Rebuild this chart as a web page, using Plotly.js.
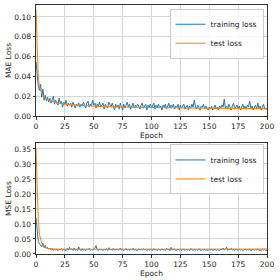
<!DOCTYPE html>
<html>
<head>
<meta charset="utf-8">
<script src="https://cdn.plot.ly/plotly-3.0.1.min.js"></script>
<style>html,body{margin:0;padding:0;background:#fff;}#chart{width:280px;height:280px;}</style>
</head>
<body>
<div id="chart"></div>
<script>
const epochs = Array.from({length: 201}, (_, i) => i);

const maeTrain = [
0.055,0.038,0.030,0.026,0.032,0.019,0.027,0.016,0.021,0.015,
0.019,0.014,0.018,0.013,0.017,0.020,0.012,0.016,0.013,0.011,
0.018,0.013,0.015,0.009,0.014,0.012,0.016,0.010,0.013,0.011,
0.013,0.009,0.014,0.011,0.008,0.012,0.010,0.013,0.009,0.012,
0.010,0.014,0.011,0.008,0.013,0.015,0.009,0.012,0.010,0.016,
0.011,0.013,0.008,0.012,0.010,0.014,0.009,0.011,0.013,0.007,
0.012,0.010,0.008,0.014,0.011,0.009,0.013,0.010,0.006,0.012,
0.009,0.011,0.007,0.013,0.010,0.006,0.012,0.008,0.011,0.014,
0.009,0.012,0.007,0.010,0.013,0.008,0.011,0.009,0.012,0.010,
0.007,0.011,0.013,0.008,0.010,0.012,0.006,0.011,0.009,0.012,
0.008,0.010,0.013,0.007,0.011,0.009,0.012,0.008,0.010,0.006,
0.011,0.009,0.012,0.007,0.010,0.013,0.008,0.011,0.009,0.012,
0.007,0.010,0.009,0.012,0.006,0.011,0.008,0.010,0.012,0.007,
0.009,0.011,0.006,0.010,0.008,0.012,0.009,0.016,0.010,0.007,
0.011,0.008,0.006,0.010,0.009,0.012,0.007,0.010,0.008,0.006,
0.009,0.007,0.010,0.006,0.008,0.011,0.007,0.009,0.006,0.010,
0.008,0.011,0.009,0.017,0.008,0.010,0.007,0.012,0.009,0.006,
0.010,0.013,0.007,0.009,0.011,0.008,0.010,0.006,0.009,0.012,
0.008,0.010,0.007,0.011,0.009,0.015,0.008,0.010,0.006,0.009,
0.011,0.007,0.013,0.008,0.010,0.006,0.009,0.012,0.007,0.008,
0.006];

const maeTest = [
0.108,0.060,0.038,0.030,0.026,0.023,0.021,0.019,0.018,0.017,
0.0165,0.016,0.0155,0.015,0.0148,0.0145,0.014,0.0138,0.0135,0.0132,
0.013,0.0128,0.0126,0.0124,0.0122,0.012,0.0119,0.0118,0.0117,0.0116,
0.0115,0.0114,0.0113,0.0112,0.0111,0.011,0.0109,0.0108,0.0107,0.0106,
0.0105,0.0104,0.0103,0.0103,0.0102,0.0101,0.0100,0.0100,0.0099,0.0099,
0.0098,0.0098,0.0097,0.0097,0.0097,0.0096,0.0096,0.0096,0.0095,0.0095,
0.0095,0.0094,0.0094,0.0094,0.0093,0.0093,0.0093,0.0093,0.0092,0.0092,
0.0092,0.0092,0.0091,0.0091,0.0091,0.0091,0.0090,0.0090,0.0090,0.0090,
0.0090,0.0089,0.0089,0.0089,0.0089,0.0089,0.0088,0.0088,0.0088,0.0088,
0.0088,0.0088,0.0087,0.0087,0.0087,0.0087,0.0087,0.0087,0.0086,0.0086,
0.0086,0.0086,0.0086,0.0086,0.0085,0.0085,0.0085,0.0085,0.0085,0.0085,
0.0084,0.0084,0.0084,0.0084,0.0084,0.0084,0.0083,0.0083,0.0083,0.0083,
0.0083,0.0083,0.0083,0.0082,0.0082,0.0082,0.0082,0.0082,0.0082,0.0082,
0.0081,0.0081,0.0081,0.0081,0.0081,0.0081,0.0081,0.0080,0.0080,0.0080,
0.0080,0.0080,0.0080,0.0080,0.0080,0.0079,0.0079,0.0079,0.0079,0.0079,
0.0079,0.0079,0.0079,0.0079,0.0078,0.0078,0.0078,0.0078,0.0078,0.0078,
0.0078,0.0078,0.0078,0.0078,0.0077,0.0077,0.0077,0.0077,0.0077,0.0077,
0.0077,0.0077,0.0077,0.0077,0.0077,0.0076,0.0076,0.0076,0.0076,0.0076,
0.0076,0.0076,0.0076,0.0076,0.0076,0.0076,0.0075,0.0075,0.0075,0.0075,
0.0075,0.0075,0.0075,0.0075,0.0075,0.0075,0.0075,0.0074,0.0074,0.0074,
0.0074];

const mseTrain = [
0.120,0.062,0.042,0.034,0.030,0.024,0.036,0.021,0.029,0.018,
0.022,0.016,0.019,0.014,0.018,0.012,0.015,0.013,0.017,0.011,
0.015,0.013,0.018,0.012,0.016,0.014,0.011,0.019,0.013,0.022,
0.014,0.017,0.012,0.020,0.013,0.016,0.011,0.023,0.014,0.012,
0.018,0.013,0.016,0.011,0.017,0.014,0.019,0.012,0.015,0.013,
0.016,0.020,0.028,0.014,0.012,0.017,0.013,0.015,0.011,0.016,
0.013,0.018,0.012,0.021,0.014,0.016,0.012,0.019,0.013,0.015,
0.017,0.012,0.014,0.020,0.013,0.016,0.011,0.015,0.018,0.013,
0.015,0.012,0.017,0.014,0.019,0.013,0.016,0.011,0.015,0.017,
0.013,0.016,0.012,0.018,0.014,0.015,0.011,0.017,0.013,0.016,
0.014,0.012,0.018,0.013,0.015,0.011,0.016,0.014,0.012,0.017,
0.013,0.015,0.012,0.019,0.014,0.016,0.011,0.022,0.013,0.015,
0.017,0.012,0.014,0.016,0.013,0.015,0.011,0.017,0.014,0.012,
0.016,0.013,0.015,0.011,0.018,0.014,0.012,0.016,0.013,0.015,
0.012,0.017,0.014,0.011,0.015,0.013,0.016,0.012,0.014,0.011,
0.015,0.013,0.017,0.012,0.014,0.016,0.011,0.015,0.013,0.012,
0.016,0.014,0.020,0.013,0.015,0.022,0.012,0.016,0.014,0.019,
0.013,0.015,0.011,0.017,0.014,0.012,0.016,0.013,0.015,0.011,
0.014,0.016,0.012,0.015,0.013,0.017,0.011,0.014,0.016,0.012,
0.015,0.013,0.017,0.012,0.014,0.011,0.016,0.013,0.015,0.012,
0.014];

const mseTest = [
0.350,0.200,0.110,0.065,0.045,0.035,0.028,0.024,0.021,0.019,
0.018,0.0175,0.017,0.0168,0.0166,0.0165,0.0164,0.0163,0.0162,0.0162,
0.0161,0.0161,0.0160,0.0160,0.0160,0.0160,0.0159,0.0159,0.0159,0.0159,
0.0159,0.0159,0.0158,0.0158,0.0158,0.0158,0.0158,0.0158,0.0158,0.0158,
0.0158,0.0158,0.0158,0.0158,0.0158,0.0158,0.0158,0.0158,0.0158,0.0158,
0.0158,0.0158,0.0159,0.0159,0.0159,0.0159,0.0159,0.0159,0.0159,0.0159,
0.0159,0.0159,0.0159,0.0159,0.0160,0.0160,0.0160,0.0160,0.0160,0.0160,
0.0160,0.0160,0.0160,0.0160,0.0160,0.0160,0.0160,0.0160,0.0161,0.0161,
0.0161,0.0161,0.0161,0.0161,0.0161,0.0161,0.0161,0.0161,0.0161,0.0161,
0.0161,0.0161,0.0162,0.0162,0.0162,0.0162,0.0162,0.0162,0.0162,0.0162,
0.0162,0.0162,0.0162,0.0162,0.0162,0.0162,0.0162,0.0163,0.0163,0.0163,
0.0163,0.0163,0.0163,0.0163,0.0163,0.0163,0.0163,0.0163,0.0163,0.0163,
0.0163,0.0163,0.0164,0.0164,0.0164,0.0164,0.0164,0.0164,0.0164,0.0164,
0.0164,0.0164,0.0164,0.0164,0.0164,0.0164,0.0164,0.0164,0.0164,0.0164,
0.0165,0.0165,0.0165,0.0165,0.0165,0.0165,0.0165,0.0165,0.0165,0.0165,
0.0165,0.0165,0.0165,0.0165,0.0165,0.0165,0.0165,0.0165,0.0165,0.0165,
0.0165,0.0165,0.0165,0.0165,0.0165,0.0165,0.0165,0.0165,0.0165,0.0165,
0.0165,0.0165,0.0165,0.0165,0.0165,0.0165,0.0165,0.0165,0.0165,0.0165,
0.0165,0.0165,0.0165,0.0165,0.0165,0.0165,0.0165,0.0165,0.0165,0.0165,
0.0165,0.0165,0.0165,0.0165,0.0165,0.0165,0.0165,0.0165,0.0165,0.0165,
0.0165];

const xTicks = [0, 25, 50, 75, 100, 125, 150, 175, 200];
const seriesNames = ['training loss', 'test loss'];
const yTitles = ['MAE Loss', 'MSE Loss'];

const BLUE = '#1f77b4', ORANGE = '#ff7f0e';
const FONT = 'DejaVu Sans, sans-serif';

const traces = [
  {x: epochs, y: maeTrain, name: seriesNames[0], mode: 'lines', line: {color: BLUE, width: 1}, xaxis: 'x', yaxis: 'y', legend: 'legend'},
  {x: epochs, y: maeTest, name: seriesNames[1], mode: 'lines', line: {color: ORANGE, width: 1}, xaxis: 'x', yaxis: 'y', legend: 'legend'},
  {x: epochs, y: mseTrain, name: seriesNames[0], mode: 'lines', line: {color: BLUE, width: 1}, xaxis: 'x2', yaxis: 'y2', legend: 'legend2'},
  {x: epochs, y: mseTest, name: seriesNames[1], mode: 'lines', line: {color: ORANGE, width: 1}, xaxis: 'x2', yaxis: 'y2', legend: 'legend2'}
];

const axCommon = {
  showline: true, mirror: true, linecolor: '#333', linewidth: 1,
  ticks: 'outside', ticklen: 2.5, tickwidth: 1, tickcolor: '#333',
  showgrid: true, gridcolor: '#d6d6d6', gridwidth: 1, zeroline: false,
  tickfont: {family: FONT, size: 7.5, color: '#222'}
};

const legendCommon = {
  font: {family: FONT, size: 7.5, color: '#222'},
  bgcolor: 'rgba(255,255,255,0.85)', bordercolor: '#cccccc', borderwidth: 1,
  xanchor: 'right', yanchor: 'top', tracegroupgap: 0, itemwidth: 30
};

const layout = {
  width: 280, height: 280,
  margin: {l: 36, r: 13, t: 5, b: 26},
  paper_bgcolor: '#fff', plot_bgcolor: '#fff',
  font: {family: FONT, size: 7.5, color: '#222'},
  showlegend: true,
  xaxis: Object.assign({}, axCommon, {domain: [0, 1], anchor: 'y', range: [0, 200], tickvals: xTicks,
    title: {text: 'Epoch', font: {family: FONT, size: 7.5, color: '#222'}, standoff: 1}}),
  yaxis: Object.assign({}, axCommon, {domain: [0.554, 1], anchor: 'x', range: [0, 0.112], dtick: 0.02, tick0: 0, tickformat: '.2f',
    title: {text: yTitles[0], font: {family: FONT, size: 7.5, color: '#222'}, standoff: 1}}),
  xaxis2: Object.assign({}, axCommon, {domain: [0, 1], anchor: 'y2', range: [0, 200], tickvals: xTicks,
    title: {text: 'Epoch', font: {family: FONT, size: 7.5, color: '#222'}, standoff: 1}}),
  yaxis2: Object.assign({}, axCommon, {domain: [0, 0.446], anchor: 'x2', range: [0, 0.37], dtick: 0.05, tick0: 0, tickformat: '.2f',
    title: {text: yTitles[1], font: {family: FONT, size: 7.5, color: '#222'}, standoff: 1}}),
  legend: Object.assign({}, legendCommon, {x: 0.985, y: 0.985}),
  legend2: Object.assign({}, legendCommon, {x: 0.985, y: 0.44})
};

Plotly.newPlot('chart', traces, layout, {staticPlot: true, displayModeBar: false});
</script>
</body>
</html>
